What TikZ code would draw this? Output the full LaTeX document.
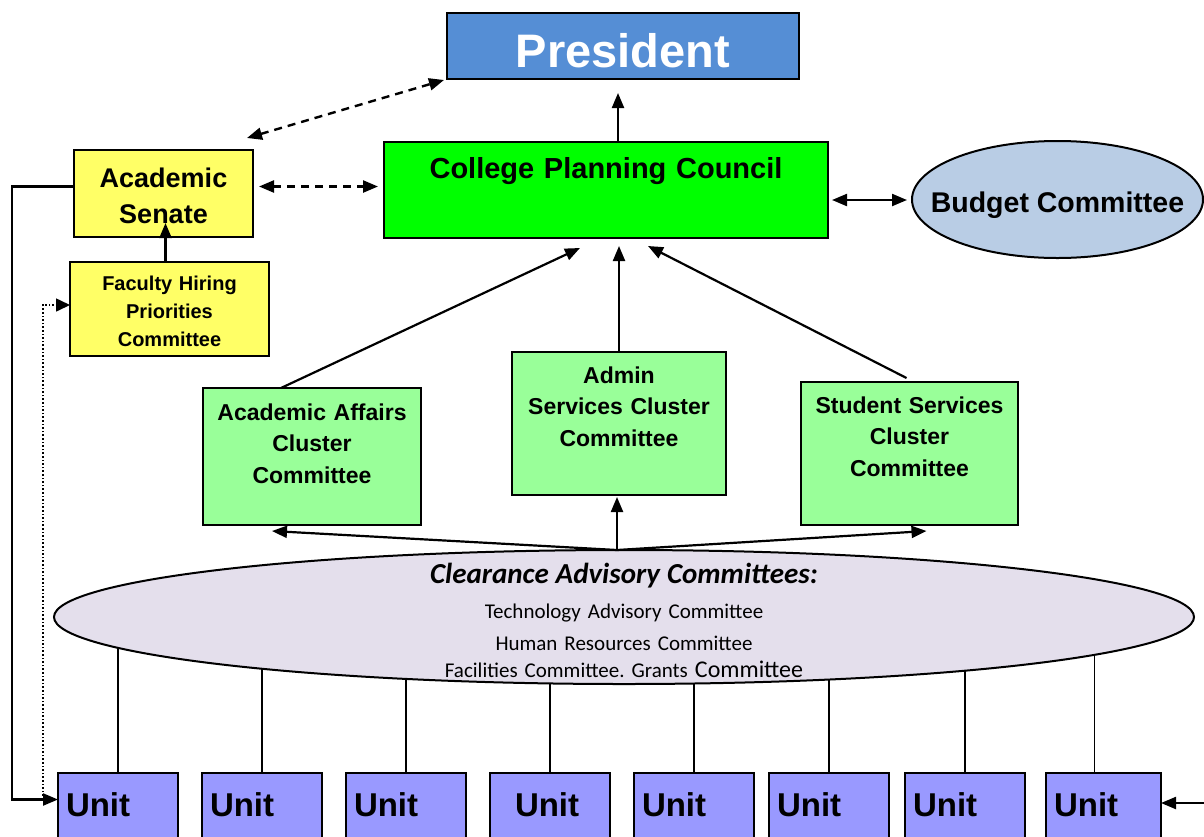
\documentclass[tikz,border=0pt]{standalone}
\usepackage{fontspec}
\setmainfont{Liberation Sans}
\newfontfamily\calibri{Carlito}
\usetikzlibrary{arrows.meta,positioning,shapes.geometric,backgrounds}

\definecolor{presblue}{HTML}{558ED5}
\definecolor{senateyellow}{HTML}{FFFF66}
\definecolor{councilgreen}{HTML}{00FF00}
\definecolor{clustergreen}{HTML}{99FF99}
\definecolor{budgetblue}{HTML}{B9CDE5}
\definecolor{advisorylilac}{HTML}{E4DFEC}
\definecolor{unitviolet}{HTML}{9999FF}

\begin{document}
\begin{tikzpicture}[
    x=1pt,y=-1pt,
    every node/.style={font=\bfseries,align=center,inner sep=0pt,outer sep=0pt},
    box/.style={draw,line width=2.4pt,anchor=north west},
    cluster/.style={box,fill=clustergreen,font=\bfseries\fontsize{23}{31.5}\selectfont},
    unit/.style={box,fill=unitviolet,minimum width=120pt,text width=104pt,inner xsep=8pt,align=left,
        font=\bfseries\fontsize{33}{36}\selectfont,text height=43pt,text depth=40pt},
    oval/.style={draw,ellipse,line width=2pt},
    arrow/.style={-{Triangle[length=15pt,width=12pt]},line width=2.2pt},
    twoway/.style={{Triangle[length=15pt,width=12pt]}-{Triangle[length=15pt,width=12pt]},line width=2.2pt},
    dashes/.style={twoway,line width=2.4pt,dash pattern=on 8pt off 6pt},
    dotline/.style={-{Triangle[length=14pt,width=13pt]},line width=1.6pt,dotted},
    feed/.style={line width=1.8pt}
]
\useasboundingbox (0,0) rectangle (1204,836);

\node[box,fill=presblue,text=white,minimum width=352pt,text height=54pt,text depth=12pt,
    font=\bfseries\fontsize{47}{50}\selectfont] (pres) at (447,13) {President};
\node[box,fill=senateyellow,text width=179pt,text height=37pt,text depth=50pt,
    font=\bfseries\fontsize{27}{36}\selectfont] (as) at (74,150) {Academic\\Senate};
\node[box,fill=senateyellow,text width=199pt,text height=28pt,text depth=66pt,
    font=\bfseries\fontsize{20}{28}\selectfont,below=25pt of as,xshift=6pt] (fhp) {Faculty Hiring\\Priorities\\Committee};
\node[box,fill=councilgreen,text width=444pt,text height=36pt,text depth=60pt,
    font=\bfseries\fontsize{29}{33}\selectfont] (cpc) at (384,142) {College Planning Council};
\node[oval,fill=budgetblue,minimum width=291pt,minimum height=117pt,inner xsep=-40pt,
    text height=30pt,text depth=5pt,font=\bfseries\fontsize{28.5}{32}\selectfont] (budget) at (1057.5,199.5) {Budget Committee};

\node[cluster,text width=218pt,text height=32pt,text depth=105pt] (aa) at (203,388) {Academic Affairs\\Cluster\\Committee};
\node[cluster,text width=214pt,text height=31pt,text depth=112pt] (adm) at (512,352) {Admin\\Services Cluster\\Committee};
\node[cluster,text width=217pt,text height=31pt,text depth=112pt] (ss) at (801,382) {Student Services\\Cluster\\Committee};

\node[oval,fill=advisorylilac,minimum width=1140pt,minimum height=134pt,text width=420pt,
    text height=12pt,text depth=80pt,font=\calibri\mdseries\frenchspacing\fontsize{21}{32}\selectfont] (cac) at (624,617)
    {{\bfseries\itshape\fontsize{29}{32}\selectfont Clearance Advisory Committees:}\\[3pt]
     Technology Advisory Committee\\
     Human Resources Committee\\[-5pt]
     Facilities Committee. Grants {\fontsize{24}{32}\selectfont Committee}};

\node[unit] (u1) at (58,773) {Unit};
\node[unit,right=24pt of u1] (u2) {Unit};
\node[unit,right=24pt of u2] (u3) {Unit};
\node[unit,right=24pt of u3] (u4) {\hspace*{17pt}Unit};
\node[unit,right=24pt of u4] (u5) {Unit};
\node[unit,right=15pt of u5] (u6) {Unit};
\node[unit,right=16pt of u6] (u7) {Unit};
\node[unit,minimum width=115pt,text width=99pt,right=21pt of u7] (u8) {Unit};

\coordinate (fork) at ([xshift=-7pt]cac.north);
\coordinate (tap) at ([shift={(-15pt,15pt)}]u1.west);
\coordinate (edge) at (1204,803);

\draw[arrow,shorten >=14pt] ([xshift=12pt]cpc.north) -- ([xshift=12pt]cpc.north |- pres.south);
\draw[dashes] ([shift={(-6pt,12pt)}]as.north east) -- ([shift={(-3pt,-1pt)}]pres.south west);
\draw[dashes,shorten <=6pt,shorten >=6pt] ([yshift=7pt]as.east) -- ([yshift=7pt]as.east -| cpc.west);
\draw[twoway,shorten <=4pt,shorten >=5pt] ([yshift=-10pt]cpc.east) -- ([yshift=-10pt]cpc.east -| budget.west);
\draw[arrow,shorten >=-14pt] ([xshift=-4pt]fhp.north) -- ([xshift=-4pt]fhp.north |- as.south);

\draw[arrow] ([xshift=-31pt]aa.north) -- ([shift={(-26pt,-10pt)}]cpc.south);
\draw[arrow,shorten >=8pt] (adm.north) -- (adm.north |- cpc.south);
\draw[arrow] ([shift={(-3pt,4pt)}]ss.north) -- ([shift={(42pt,-8pt)}]cpc.south);

\draw[arrow,shorten >=2pt] (fork) -- (fork |- adm.south);
\draw[arrow] (fork) -- ([shift={(69pt,-6pt)}]aa.south west);
\draw[arrow] (fork) -- ([shift={(17pt,-6pt)}]ss.south);

\draw[arrow] ([yshift=7pt]as.west) -- ++(-62pt,0pt) |- ([yshift=15pt]u1.west);
\draw[dotline] (tap) |- ([yshift=4pt]fhp.west);
\draw[arrow] (edge) -- (edge -| u8.east);

\begin{scope}[on background layer]
\draw[feed] (u1.north) -- (u1.north |- cac.center);
\draw[feed] (u2.north) -- (u2.north |- cac.center);
\draw[feed] (u3.north) -- (u3.north |- cac.center);
\draw[feed] (u4.north) -- (u4.north |- cac.center);
\draw[feed] (u5.north) -- (u5.north |- cac.center);
\draw[feed] (u6.north) -- (u6.north |- cac.center);
\draw[feed] (u7.north) -- (u7.north |- cac.center);
\draw[feed] ([xshift=-9pt]u8.north) -- ([xshift=-9pt]u8.north |- cac.center);
\end{scope}
\end{tikzpicture}
\end{document}
